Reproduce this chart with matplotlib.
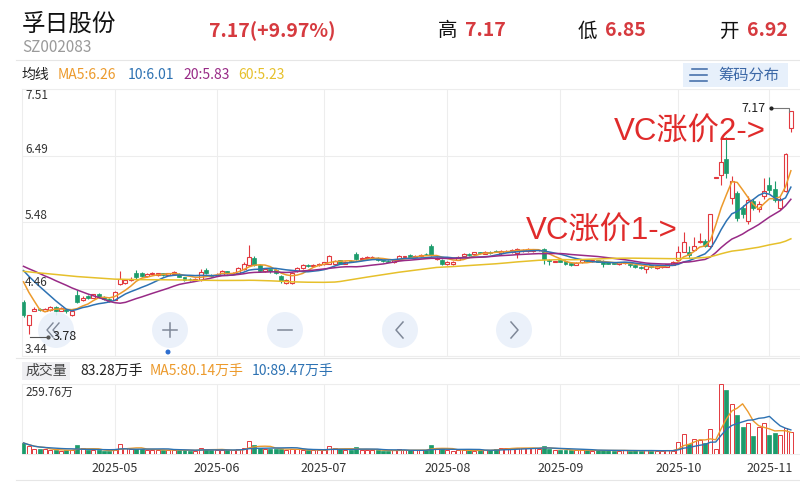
import matplotlib
matplotlib.use('Agg')
import matplotlib.pyplot as plt
import numpy as np
import pandas as pd
from matplotlib.patches import Circle, Rectangle

plt.rcParams['font.family'] = ['Noto Sans CJK SC', 'DejaVu Sans']

################################################################################
# data (prices in CNY, volume in 万手)

month_labels = ['2025-05', '2025-06', '2025-07', '2025-08', '2025-09', '2025-10', '2025-11']
month_start = [17, 36, 56, 79, 100, 122, 139]   # candle index of first trading day

price_ticks = [3.44, 4.46, 5.48, 6.49, 7.51]
vol_max = 259.76

# closes before the visible window, only needed so the MA lines start right
prev_close = [4.60, 4.62, 4.58, 4.63, 4.65, 4.61, 4.66, 4.68, 4.64, 4.62, 4.67, 4.70, 4.66, 4.63, 4.68, 4.71, 4.69,
              4.72, 4.70, 4.74, 4.69, 4.73, 4.76, 4.71, 4.68, 4.72, 4.75, 4.73, 4.70, 4.74, 4.77, 4.72, 4.69, 4.71,
              4.74, 4.76, 4.73, 4.70, 4.72, 4.75,
              4.80, 4.85, 4.88, 4.92, 4.86, 4.90, 4.87, 4.84, 4.89, 4.91,
              4.93, 4.95, 4.90, 4.88, 4.91,
              4.86, 4.82, 4.78, 4.33]

opens = [4.27, 3.91, 4.13, 4.15, 4.13, 4.14, 4.19, 4.13, 4.15, 4.07, 4.37, 4.29, 4.35, 4.33, 4.38, 4.34, 4.31,
         4.30, 4.54, 4.55, 4.60, 4.71, 4.70, 4.66, 4.69, 4.67, 4.70, 4.68, 4.69, 4.69, 4.64, 4.62, 4.60, 4.60, 4.75, 4.68,
         4.67, 4.68, 4.73, 4.70, 4.70, 4.76, 4.83, 4.93, 4.83, 4.74, 4.76, 4.75, 4.66, 4.55, 4.55, 4.73, 4.78, 4.83, 4.81, 4.82,
         4.84, 4.85, 4.84, 4.90, 4.85, 4.89, 5.00, 4.92, 4.93, 4.95, 4.94, 4.90, 4.89, 4.87, 4.91, 4.95, 4.98, 4.95, 4.96,
         5.00, 5.12, 4.92, 4.91,
         4.84, 4.84, 4.91, 4.96, 5.00, 4.99, 5.02, 5.00, 5.02, 5.04, 5.01, 5.04, 5.02, 5.01, 5.04, 5.04, 5.04, 5.05, 5.07,
         4.91, 4.88,
         4.90, 4.89, 4.86, 4.83, 4.87, 4.90, 4.89, 4.90, 4.89, 4.87, 4.87, 4.84, 4.86, 4.85, 4.82, 4.80, 4.77, 4.82, 4.78,
         4.79, 4.80, 4.83,
         4.91, 5.03, 5.02, 5.05, 5.18, 5.20, 5.11, 6.16, 6.20, 6.44, 5.85, 5.92, 5.70, 5.50, 5.80, 5.68, 5.88,
         6.05, 5.98, 5.70, 5.95, 6.92]

closes = [4.06, 4.06, 4.16, 4.14, 4.15, 4.19, 4.13, 4.17, 4.12, 4.12, 4.27, 4.33, 4.32, 4.38, 4.34, 4.31, 4.28,
          4.42, 4.61, 4.60, 4.62, 4.64, 4.66, 4.69, 4.70, 4.70, 4.67, 4.70, 4.72, 4.65, 4.60, 4.61, 4.62, 4.72, 4.70, 4.66,
          4.68, 4.74, 4.70, 4.71, 4.78, 4.85, 4.95, 4.83, 4.74, 4.76, 4.73, 4.71, 4.58, 4.60, 4.70, 4.78, 4.83, 4.81, 4.83, 4.85,
          4.87, 4.96, 4.89, 4.85, 4.88, 4.88, 4.92, 4.94, 4.95, 4.95, 4.90, 4.89, 4.88, 4.90, 4.97, 4.96, 4.94, 4.97, 4.98,
          4.99, 4.98, 4.94, 4.84,
          4.88, 4.88, 4.95, 5.00, 4.98, 5.02, 5.01, 5.03, 5.01, 5.03, 5.04, 5.04, 5.06, 5.07, 5.06, 5.07, 5.05, 5.05, 4.92,
          4.89, 4.88,
          4.88, 4.84, 4.82, 4.86, 4.90, 4.89, 4.90, 4.88, 4.84, 4.85, 4.85, 4.87, 4.87, 4.82, 4.79, 4.78, 4.81, 4.79, 4.81,
          4.82, 4.84, 4.88,
          5.03, 5.18, 4.98, 5.11, 5.20, 5.12, 5.60, 6.16, 6.40, 6.23, 6.10, 5.54, 5.60, 5.82, 5.70, 5.75, 5.95,
          5.97, 5.82, 5.84, 6.52, 7.17]

highs = [4.30, 4.07, 4.19, 4.17, 4.17, 4.20, 4.20, 4.18, 4.16, 4.13, 4.44, 4.35, 4.37, 4.39, 4.40, 4.35, 4.33,
         4.43, 4.73, 4.62, 4.64, 4.75, 4.72, 4.70, 4.72, 4.71, 4.71, 4.71, 4.73, 4.70, 4.65, 4.63, 4.63, 4.76, 4.78, 4.69,
         4.70, 4.75, 4.74, 4.72, 4.79, 4.87, 5.13, 4.96, 4.84, 4.78, 4.77, 4.76, 4.67, 4.62, 4.72, 4.80, 4.85, 4.84, 4.84, 4.86,
         4.88, 4.98, 4.91, 4.91, 4.89, 4.90, 5.03, 4.95, 4.96, 4.97, 4.95, 4.91, 4.90, 4.91, 4.98, 4.97, 4.99, 4.98, 4.99,
         5.01, 5.15, 4.95, 4.92,
         4.89, 4.89, 4.96, 5.01, 5.01, 5.03, 5.03, 5.04, 5.04, 5.05, 5.06, 5.05, 5.07, 5.08, 5.07, 5.08, 5.06, 5.06, 5.08,
         4.92, 4.89,
         4.91, 4.90, 4.87, 4.87, 4.91, 4.91, 4.91, 4.91, 4.90, 4.88, 4.88, 4.88, 4.88, 4.86, 4.83, 4.81, 4.82, 4.83, 4.82,
         4.83, 4.85, 4.89,
         5.11, 5.33, 5.12, 5.25, 5.32, 5.22, 5.61, 6.16, 6.78, 6.78, 6.18, 5.95, 5.74, 5.88, 5.84, 5.80, 6.16,
         6.17, 6.10, 5.86, 6.54, 7.17]

lows = [4.04, 3.78, 4.12, 4.12, 4.12, 4.13, 4.06, 4.12, 4.10, 4.05, 4.25, 4.28, 4.31, 4.32, 4.33, 4.29, 4.27,
        4.29, 4.52, 4.54, 4.59, 4.62, 4.65, 4.65, 4.68, 4.66, 4.66, 4.67, 4.68, 4.64, 4.59, 4.59, 4.59, 4.59, 4.69, 4.65,
        4.66, 4.67, 4.69, 4.69, 4.69, 4.75, 4.82, 4.81, 4.72, 4.72, 4.71, 4.69, 4.56, 4.54, 4.54, 4.72, 4.77, 4.80, 4.80, 4.81,
        4.83, 4.84, 4.83, 4.84, 4.84, 4.87, 4.91, 4.91, 4.92, 4.94, 4.89, 4.88, 4.87, 4.86, 4.90, 4.94, 4.93, 4.94, 4.95,
        4.98, 4.97, 4.90, 4.82,
        4.83, 4.83, 4.90, 4.95, 4.97, 4.98, 5.00, 4.99, 5.00, 5.02, 4.98, 5.03, 5.01, 4.93, 5.03, 5.03, 5.03, 5.04, 4.85,
        4.82, 4.87,
        4.87, 4.83, 4.81, 4.82, 4.86, 4.88, 4.88, 4.87, 4.80, 4.84, 4.84, 4.83, 4.85, 4.79, 4.78, 4.77, 4.71, 4.78, 4.77,
        4.78, 4.79, 4.82,
        4.90, 5.02, 4.94, 5.04, 5.16, 5.10, 5.09, 6.16, 6.05, 6.16, 5.75, 5.50, 5.55, 5.45, 5.67, 5.64, 5.84,
        5.92, 5.78, 5.66, 5.94, 6.85]

volume = [41, 28, 18, 17, 17, 16, 14, 12, 13, 16, 32, 22, 14, 14, 14, 11, 11,
          16, 37, 22, 18, 20, 17, 15, 16, 14, 15, 14, 16, 15, 13, 12, 12, 22, 20, 14,
          14, 15, 13, 13, 17, 22, 47, 32, 24, 20, 18, 17, 20, 16, 18, 17, 15, 13, 14, 15,
          14, 28, 22, 17, 16, 15, 25, 16, 15, 14, 13, 12, 12, 14, 17, 14, 13, 14, 15, 16, 35, 22, 17,
          14, 12, 13, 16, 13, 12, 14, 13, 16, 20, 22, 21, 24, 22, 21, 23, 22, 20, 28, 20, 15,
          14, 15, 13, 14, 16, 13, 12, 13, 15, 13, 12, 12, 14, 12, 13, 11, 14, 12, 11, 12, 13, 12,
          44, 74, 37, 56, 53, 41, 94, 20, 259.76, 239, 186, 146, 100, 115, 66, 99, 114,
          72, 77, 71, 97.4, 83.28]

################################################################################

RED = '#e2393f'
GREEN = '#1c9c6c'
GRID = '#ededed'
ma_colors = {5: '#ec9a2c', 10: '#2d72b3', 20: '#982a86', 60: '#e6c02b'}

o = np.array(opens)
c = np.array(closes)
h = np.array(highs)
l = np.array(lows)
v = np.array(volume)
x = np.arange(len(c))
up = c >= o
xlim = (-0.28, len(c) + 0.7)

fig = plt.figure(figsize=(8, 4.82), dpi=100)
W, H = 800, 482

def px_axes(x0, y0, x1, y1):
    return fig.add_axes([x0 / W, 1 - y1 / H, (x1 - x0) / W, (y1 - y0) / H])

# ---------------- price panel
ax = px_axes(22, 89, 800, 356)
ax.set_xlim(*xlim)
ax.set_ylim(price_ticks[0], price_ticks[-1])
ax.set_yticks(price_ticks)
ax.set_xticks(month_start)
ax.tick_params(length=0, labelleft=False, labelbottom=False)
ax.grid(True, color=GRID, lw=0.8)
for s in ax.spines.values():
    s.set_color(GRID)
ax.spines['right'].set_visible(False)

ax.vlines(x, l, h, colors=np.where(up, RED, GREEN), lw=0.8, zorder=2)
body_lo = np.minimum(o, c)
body_h = np.maximum(np.abs(c - o), 0.006)
ax.bar(x[up], body_h[up], bottom=body_lo[up], width=0.74, facecolor='white',
       edgecolor=RED, lw=0.8, zorder=3)
ax.bar(x[~up], body_h[~up], bottom=body_lo[~up], width=0.74, color=GREEN,
       edgecolor=GREEN, lw=0.5, zorder=3)

full = pd.Series(prev_close + closes)
for n, col in ma_colors.items():
    ma = full.rolling(n).mean().iloc[len(prev_close):].to_numpy()
    ax.plot(x, ma, color=col, lw=1.1, zorder=4)

for t in price_ticks:
    va = 'top' if t == price_ticks[-1] else 'bottom'
    ax.text(0.004, t, f'{t:.2f}', transform=ax.get_yaxis_transform(), fontsize=8.5,
            color='#333333', va=va, ha='left', zorder=5)

# ---------------- volume panel
axv = px_axes(22, 384, 800, 454)
axv.set_xlim(*xlim)
axv.set_ylim(0, vol_max)
axv.set_yticks([vol_max])
axv.set_xticks(month_start)
axv.set_xticklabels(month_labels, fontsize=9, color='#333333')
axv.tick_params(length=0, labelleft=False, pad=6)
axv.grid(True, color=GRID, lw=0.8)
for s in axv.spines.values():
    s.set_color(GRID)
axv.spines['right'].set_visible(False)
axv.bar(x[up], v[up], width=0.74, facecolor='white', edgecolor=RED, lw=0.7, zorder=3)
axv.bar(x[~up], v[~up], width=0.74, color=GREEN, edgecolor=GREEN, lw=0.5, zorder=3)
vs = pd.Series(volume)
axv.plot(x, vs.rolling(5, min_periods=1).mean(), color=ma_colors[5], lw=1.0, zorder=4)
axv.plot(x, vs.rolling(10, min_periods=1).mean(), color=ma_colors[10], lw=1.0, zorder=4)
axv.text(0.004, 0.97, f'{vol_max:.2f}万', transform=axv.transAxes, fontsize=8.5,
         color='#333333', va='top', ha='left')

# ---------------- overlay for header, buttons and notes
ov = fig.add_axes([0, 0, 1, 1])
ov.set_xlim(0, W)
ov.set_ylim(H, 0)
ov.axis('off')
ov.patch.set_alpha(0)

ov.text(22, 24, '孚日股份', fontsize=17, color='#111111', va='center', ha='left')
ov.text(22, 48, 'SZ002083', fontsize=11, color='#9a9a9a', va='center', ha='left')
ov.text(209, 31, f'{closes[-1]:.2f}(+9.97%)', fontsize=14, color='#d63a3f',
        fontweight='bold', va='center', ha='left')
for lx, lab, val in [(438, '高', highs[-1]), (578, '低', lows[-1]), (720, '开', opens[-1])]:
    ov.text(lx, 31, lab, fontsize=14, color='#111111', va='center', ha='left')
    ov.text(lx + 27, 31, f'{val:.2f}', fontsize=14, color='#d63a3f',
            fontweight='bold', va='center', ha='left')
ov.plot([16, 800], [60, 60], color='#e6e6e6', lw=0.8)

ma_last = {n: full.rolling(n).mean().iloc[-1] for n in ma_colors}
ov.text(22, 75, '均线', fontsize=10, color='#222222', va='center', ha='left')
ov.text(58, 75, f'MA5:{ma_last[5]:.2f}', fontsize=10, color=ma_colors[5], va='center', ha='left')
ov.text(128, 75, f'10:{ma_last[10]:.2f}', fontsize=10, color=ma_colors[10], va='center', ha='left')
ov.text(183, 75, f'20:{ma_last[20]:.2f}', fontsize=10, color=ma_colors[20], va='center', ha='left')
ov.text(238, 75, f'60:{ma_last[60]:.2f}', fontsize=10, color=ma_colors[60], va='center', ha='left')

ov.add_patch(Rectangle((683, 63), 105, 24, facecolor='#e7f0fb', edgecolor='none'))
for yy, x0 in [(69, 692), (75, 690), (81, 690)]:
    ov.plot([x0, 707], [yy, yy], color='#3b67a6', lw=1.1)
ov.text(718, 75, '筹码分布', fontsize=11, color='#3b67a6', va='center', ha='left')

# round navigation buttons
for bx in [56, 170, 285, 400, 514]:
    ov.add_patch(Circle((bx, 330), 18, facecolor='#e9f0fa', edgecolor='none', alpha=0.9, zorder=5))
gcol = '#7f8898'
for dx in [0, 6]:
    ov.plot([53 + dx, 47 + dx, 53 + dx], [323, 330, 337], color=gcol, lw=1.0, zorder=6)
ov.plot([163, 177], [330, 330], color=gcol, lw=1.1, zorder=6)
ov.plot([170, 170], [323, 337], color=gcol, lw=1.1, zorder=6)
ov.plot([278, 292], [330, 330], color=gcol, lw=1.1, zorder=6)
ov.plot([403, 396, 403], [322, 330, 338], color=gcol, lw=1.1, zorder=6)
ov.plot([511, 518, 511], [322, 330, 338], color=gcol, lw=1.1, zorder=6)
ov.add_patch(Circle((168, 352), 2.5, facecolor='#2f6fd0', edgecolor='none', zorder=6))

# high / low markers
ov.plot([30, 48], [337, 337], color='#555555', lw=0.8, zorder=6)
ov.plot([48], [337], 'o', color='#555555', ms=2, zorder=6)
ov.text(53, 337, f'{min(lows):.2f}', fontsize=9, color='#222222', va='center', ha='left', zorder=7)
ov.plot([772, 789, 789], [108, 108, 112], color='#777777', lw=0.8)
ov.plot([771], [108], 'o', color='#222222', ms=2)
ov.text(766, 108, f'{max(highs):.2f}', fontsize=9, color='#222222', va='center', ha='right')

# hand-written notes
note_font = ['Liberation Sans', 'Noto Sans CJK SC']
ov.text(526, 232, 'VC涨价1->', fontsize=22.5, color='#e02b2b', va='center', ha='left', family=note_font)
ov.text(614, 133, 'VC涨价2->', fontsize=22.5, color='#e02b2b', va='center', ha='left', family=note_font)

# volume header
ov.plot([16, 800], [358, 358], color='#e6e6e6', lw=0.8)
ov.add_patch(Rectangle((22, 362), 48, 18, facecolor='#efeff2', edgecolor='none'))
ov.text(46, 371, '成交量', fontsize=10, color='#444444', va='center', ha='center')
ov.text(80, 371, f'{volume[-1]:.2f}万手', fontsize=10, color='#222222', va='center', ha='left')
ov.text(150, 371, f'MA5:{vs.iloc[-5:].mean():.2f}万手', fontsize=10, color=ma_colors[5],
        va='center', ha='left')
ov.text(252, 371, f'10:{vs.iloc[-10:].mean():.2f}万手', fontsize=10, color=ma_colors[10],
        va='center', ha='left')
ov.plot([16, 800], [480, 480], color='#e6e6e6', lw=0.8)

fig.savefig('out.png', dpi=100)
